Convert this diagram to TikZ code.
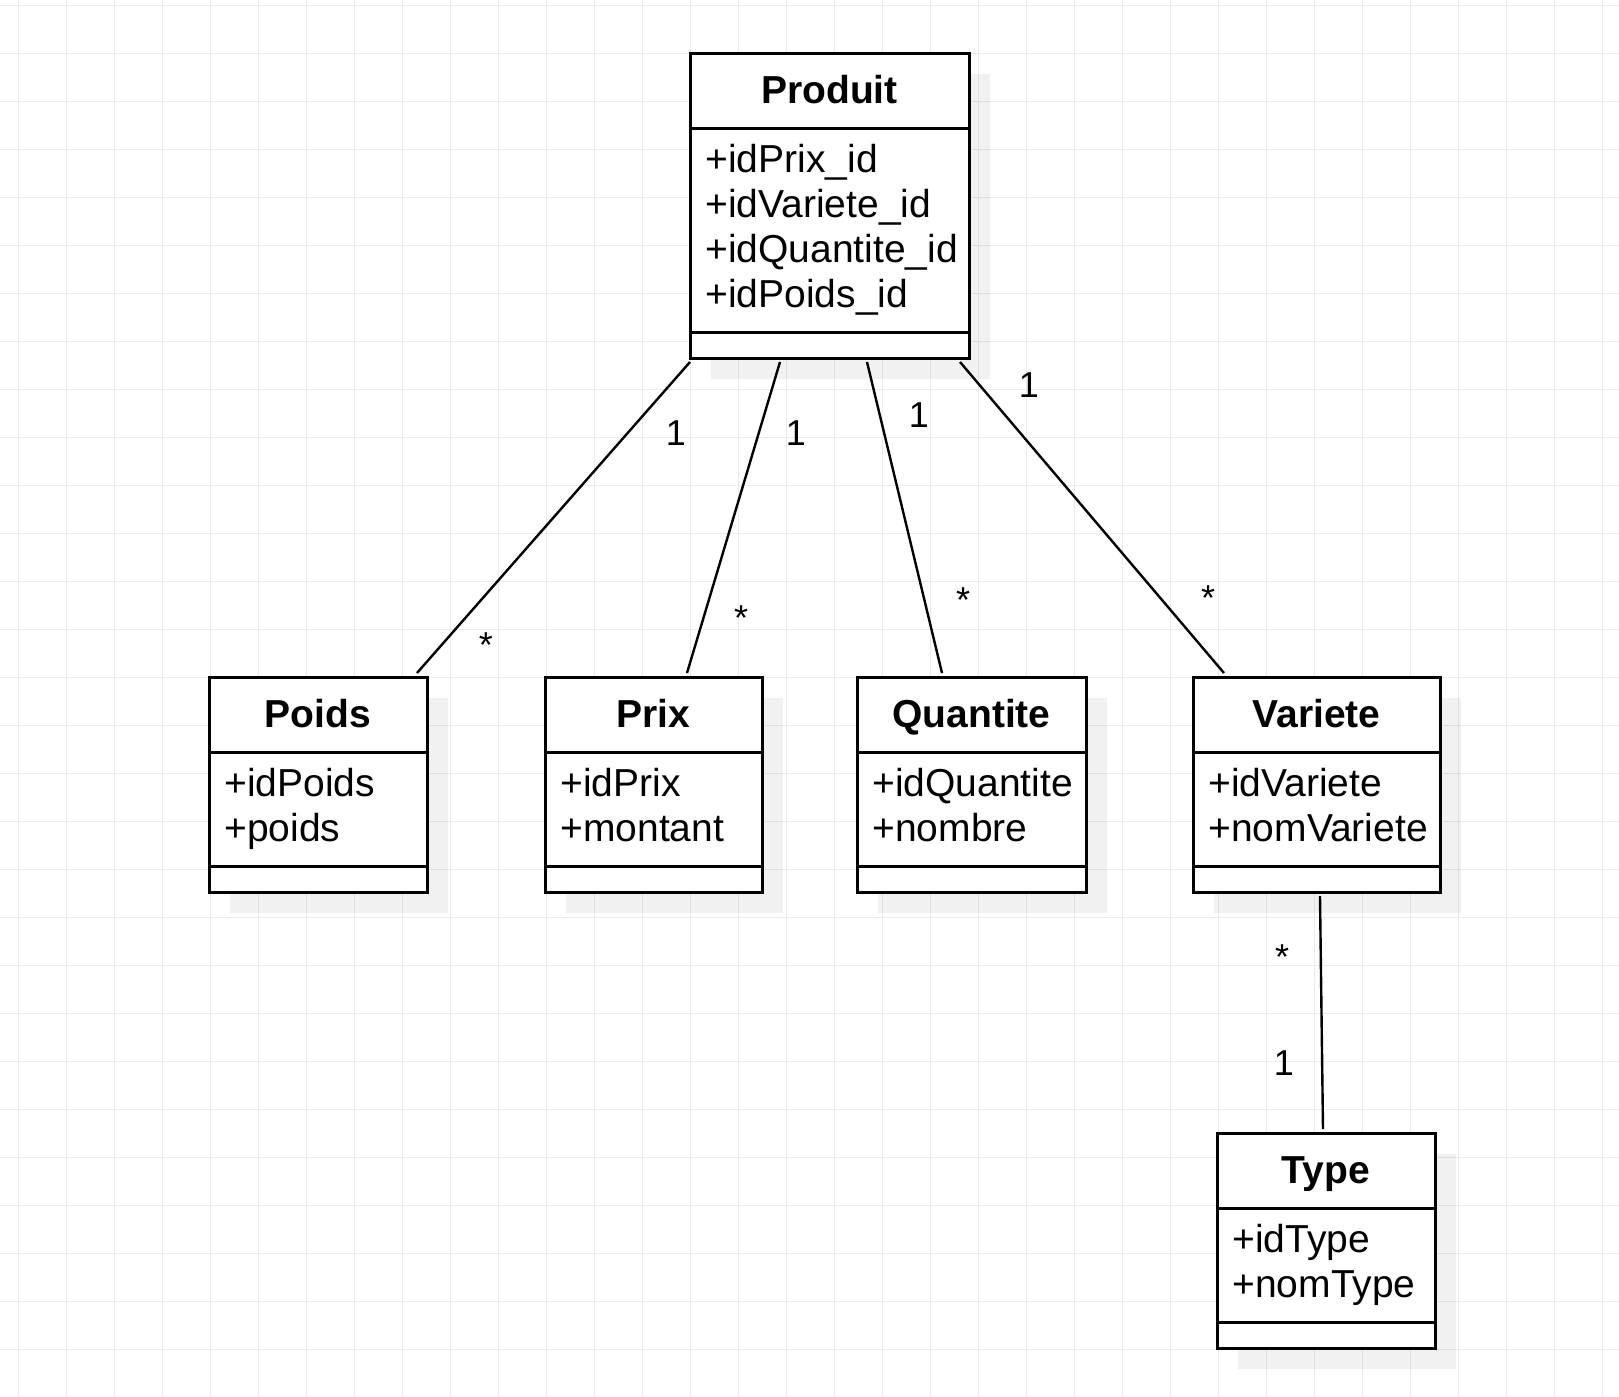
\documentclass[tikz,border=0pt]{standalone}
\usepackage{fontspec}
\setmainfont{Liberation Sans}
\usetikzlibrary{calc,shadows}

\definecolor{gridgray}{HTML}{EBEBEB}

\tikzset{
  gridline/.style={draw=gridgray, line width=0.5pt},
  classbox/.style={rectangle, draw=black, line width=1.5pt, fill=white,
    anchor=north west, inner sep=0pt, outer sep=0pt,
    general shadow={fill=black, fill opacity=0.055,
      shadow xshift=10.5pt, shadow yshift=-10.5pt}},
  classline/.style={draw=black, line width=1.5pt},
  titletext/.style={inner sep=0pt, font=\fontsize{19.5pt}{23pt}\selectfont\bfseries},
  attrtext/.style={inner sep=0pt, font=\fontsize{19.5pt}{22pt}\selectfont},
  assoc/.style={draw=black, line width=1.2pt},
  mult/.style={inner sep=0pt, anchor=base, font=\fontsize{18pt}{21pt}\selectfont},
}

% #1 name, #2 left, #3 top, #4 width, #5 title, #6 attributes, #7 number of attributes
\newcommand\umlclass[7]{%
  \pgfmathsetmacro\boxh{75+45*#7+24+26}%
  \node[classbox, minimum width=#4*0.5pt, minimum height=\boxh*0.5pt] (#1) at (#2,#3) {};
  \draw[classline] ($(#1.north west)+(0,75)$) -- ($(#1.north east)+(0,75)$);
  \draw[classline] ($(#1.south west)+(0,-26)$) -- ($(#1.south east)+(0,-26)$);
  \node[titletext, anchor=base] (#1-title) at ($(#1.north)+(0,50)$) {#5};
  \foreach \a [count=\i] in {#6}{
    \node[attrtext, anchor=base west] (#1-attr\i) at ($(#1.north west)+(15,74+45*\i)$) {\a};
  }%
}

\begin{document}
\begin{tikzpicture}[x={(0.5pt,0)}, y={(0,-0.5pt)}]
  % canvas and grid
  \fill[white] (0,0) rectangle (1619,1397);
  \useasboundingbox (0,0) rectangle (1619,1397);
  \foreach \x in {18,66,...,1619} \draw[gridline] (\x,0) -- (\x,1397);
  \foreach \y in {5,53,...,1397} \draw[gridline] (0,\y) -- (1619,\y);

  % classes
  \umlclass{produit}{690}{53}{279}{Produit}{+idPrix\_id,+idVariete\_id,+idQuantite\_id,+idPoids\_id}{4}
  \umlclass{poids}{209}{677}{218}{Poids}{+idPoids,+poids}{2}
  \umlclass{prix}{545}{677}{217}{Prix}{+idPrix,+montant}{2}
  \umlclass{quantite}{857}{677}{229}{Quantite}{+idQuantite,+nombre}{2}
  \umlclass{variete}{1193}{677}{247}{Variete}{+idVariete,+nomVariete}{2}
  \umlclass{type}{1217}{1133}{218}{Type}{+idType,+nomType}{2}

  % associations
  \draw[assoc] ($(produit.south west)+(0,4)$)   -- ($(poids.north west)+(208,-4)$);
  \draw[assoc] ($(produit.south west)+(90,4)$)  -- ($(prix.north west)+(142,-4)$);
  \draw[assoc] ($(produit.south west)+(177,4)$) -- ($(quantite.north west)+(85,-4)$);
  \draw[assoc] ($(produit.south west)+(270,4)$) -- ($(variete.north west)+(31,-4)$);
  \draw[assoc] ($(variete.south west)+(127,4)$) -- ($(type.north west)+(106,-4)$);

  % multiplicities
  \node[mult] (poids-m1)    at (676,445)  {1};
  \node[mult] (poids-m2)    at (486,657)  {*};
  \node[mult] (prix-m1)     at (796,445)  {1};
  \node[mult] (prix-m2)     at (741,630)  {*};
  \node[mult] (quantite-m1) at (919,427)  {1};
  \node[mult] (quantite-m2) at (963,612)  {*};
  \node[mult] (variete-m1)  at (1029,397) {1};
  \node[mult] (variete-m2)  at (1208,610) {*};
  \node[mult] (type-m1)     at (1282,969) {*};
  \node[mult] (type-m2)     at (1284,1075) {1};
\end{tikzpicture}
\end{document}
